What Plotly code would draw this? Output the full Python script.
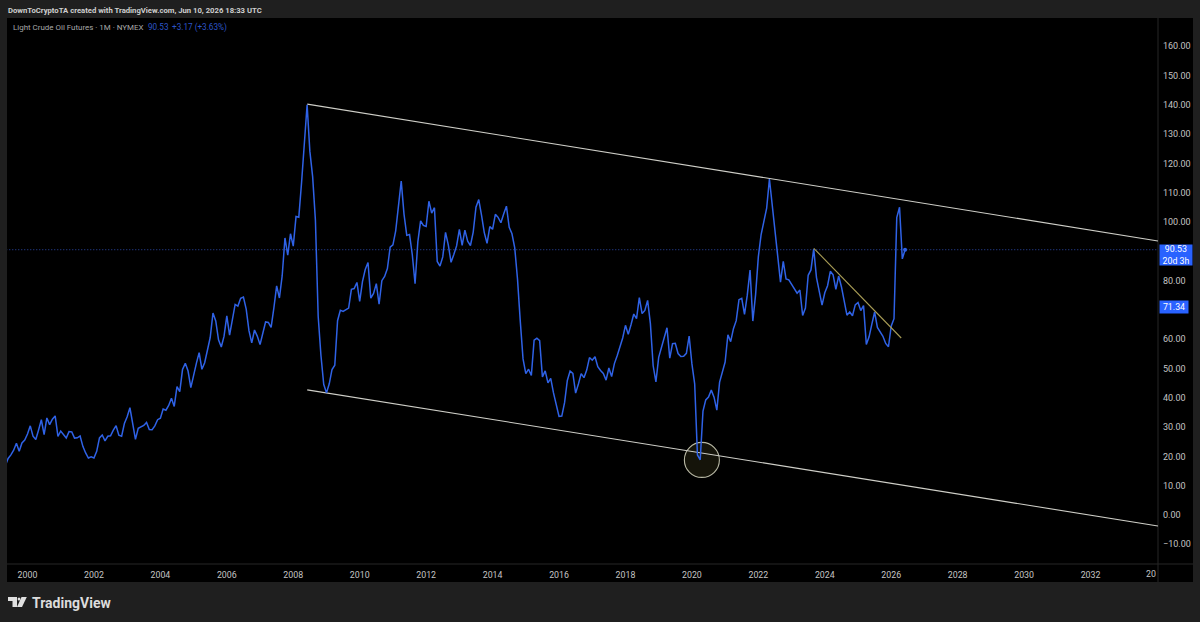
import plotly.graph_objects as go

first_year = 1999
first_month = 4  # May (0-based)
p1999 = [16.84, 19.29, 20.53, 22.11, 24.51, 21.75, 24.59, 25.60]
p2000 = [27.64, 30.43, 26.90, 25.74, 29.01, 32.50, 27.43, 33.12, 30.84, 32.70, 33.82, 26.80]
p2001 = [28.66, 27.39, 26.29, 28.46, 28.37, 26.25, 26.35, 26.97, 23.43, 21.18, 19.44, 19.84]
p2002 = [19.48, 21.74, 26.31, 27.29, 25.31, 26.86, 27.02, 28.98, 30.45, 27.22, 26.89, 31.20]
p2003 = [33.51, 36.60, 31.04, 25.80, 29.56, 30.19, 30.54, 31.57, 29.20, 29.11, 30.41, 32.52]
p2004 = [33.05, 36.16, 35.76, 37.38, 39.88, 37.05, 43.80, 42.12, 49.64, 51.76, 49.13, 43.45]
p2005 = [48.20, 51.75, 55.40, 49.72, 51.97, 56.50, 60.57, 68.94, 66.24, 59.76, 57.32, 61.04]
p2006 = [67.92, 61.41, 66.63, 71.88, 71.29, 73.93, 74.40, 70.26, 62.91, 58.73, 63.13, 61.05]
p2007 = [58.14, 61.79, 65.87, 65.71, 64.01, 70.68, 78.21, 74.04, 81.66, 94.53, 88.71, 95.98]
p2008 = [91.75, 101.84, 101.58, 113.46, 127.35, 140.00, 124.08, 115.46, 100.64, 67.81, 54.43, 44.60]
p2009 = [41.68, 44.76, 49.66, 51.12, 66.31, 69.89, 69.45, 69.96, 70.61, 77.00, 77.28, 79.36]
p2010 = [72.89, 79.66, 83.76, 86.15, 73.97, 75.63, 78.95, 71.92, 79.97, 81.43, 84.11, 91.38]
p2011 = [92.19, 96.97, 106.72, 113.93, 102.70, 95.42, 95.70, 88.81, 78.93, 93.19, 100.36, 98.83]
p2012 = [98.48, 107.07, 103.02, 104.87, 86.53, 84.96, 88.06, 96.47, 92.19, 86.24, 88.91, 91.82]
p2013 = [97.49, 92.05, 97.23, 93.46, 91.97, 96.56, 105.03, 107.65, 102.33, 96.38, 92.72, 98.42]
p2014 = [97.49, 102.59, 101.58, 99.74, 102.71, 105.37, 98.17, 95.96, 91.16, 80.54, 66.15, 53.27]
p2015 = [48.24, 49.76, 47.60, 59.63, 60.30, 59.47, 47.12, 49.20, 45.09, 46.59, 41.65, 37.04]
p2016 = [33.62, 33.75, 38.34, 45.92, 49.10, 48.33, 41.60, 44.70, 48.24, 46.86, 49.44, 53.72]
p2017 = [52.81, 54.01, 50.60, 49.33, 48.32, 46.04, 50.17, 47.23, 51.67, 54.38, 57.40, 60.42]
p2018 = [64.73, 61.64, 64.94, 68.57, 67.04, 74.15, 68.76, 69.80, 73.25, 65.31, 50.93, 45.41]
p2019 = [53.79, 57.22, 60.14, 63.91, 53.50, 58.47, 58.58, 55.10, 54.07, 54.18, 55.17, 61.06]
p2020 = [51.56, 44.76, 20.48, 18.84, 35.49, 39.27, 40.27, 42.61, 40.22, 35.79, 45.34, 48.52]
p2021 = [52.20, 61.50, 59.16, 63.58, 66.32, 73.47, 73.95, 68.50, 75.03, 83.57, 66.18, 75.21]
p2022 = [88.15, 95.72, 100.28, 104.69, 114.67, 105.76, 98.62, 89.55, 79.49, 86.53, 80.55, 80.26]
p2023 = [78.87, 77.05, 75.67, 76.78, 68.09, 70.64, 81.80, 83.63, 90.79, 81.02, 75.96, 71.65]
p2024 = [75.85, 78.26, 83.17, 81.93, 76.99, 81.54, 77.91, 73.55, 68.17, 69.26, 68.00, 71.72]
p2025 = [72.53, 69.76, 71.48, 58.21, 60.79, 65.11, 69.26, 64.01, 62.37, 60.98, 58.55, 57.42]
p2026 = [64.5, 67.0, 101.5, 105.0, 87.4, 90.53]

yearly = [p1999, p2000, p2001, p2002, p2003, p2004, p2005, p2006, p2007, p2008, p2009, p2010, p2011,
          p2012, p2013, p2014, p2015, p2016, p2017, p2018, p2019, p2020, p2021, p2022, p2023, p2024,
          p2025, p2026]

upper_x, upper_y = [2008.42, 2034.03], [140.2, 93.5]
lower_x, lower_y = [2008.42, 2034.03], [42.7, -3.75]
down_x, down_y = [2023.67, 2026.30], [91.0, 60.4]
last_price = 90.53
prior_close_label = "71.34"
year_ticks = list(range(2000, 2034, 2))
price_ticks = [p for p in range(-10, 170, 10) if p != 90]

dates, closes = [], []
for i, row in enumerate(yearly):
    start = first_month if i == 0 else 0
    for k, v in enumerate(row):
        dates.append(first_year + i + (start + k) / 12)
        closes.append(v)

W, H = 1200, 622
L, R, T, B = 7, 1158, 18, 564
def px(x): return (x - L) / (R - L)
def py(y): return (B - y) / (B - T)

BLUE = "#2962ff"
FONT = "Roboto"
fig = go.Figure()
fig.add_trace(go.Scatter(x=[1999, 2035], y=[last_price, last_price], mode="lines",
                         line=dict(color="#2b48a8", width=1, dash="1px,2px"), hoverinfo="skip"))
fig.add_trace(go.Scatter(x=upper_x, y=upper_y, mode="lines", line=dict(color="#cfcfc8", width=1.1)))
fig.add_trace(go.Scatter(x=lower_x, y=lower_y, mode="lines", line=dict(color="#cfcfc8", width=1.1)))
fig.add_trace(go.Scatter(x=dates, y=closes, mode="lines", line=dict(color="#2f62e6", width=1.5)))
fig.add_trace(go.Scatter(x=dates[-1:], y=closes[-1:], mode="markers", marker=dict(color="#2f62e6", size=4)))
fig.add_trace(go.Scatter(x=down_x, y=down_y, mode="lines", line=dict(color="#a89c55", width=1.1)))

def txt(x, y, s, color="#c4c4c4", size=9, anchor="left", **kw):
    return dict(xref="paper", yref="paper", x=px(x), y=py(y), text=s, showarrow=False, xanchor=anchor,
                yanchor="middle", font=dict(family=FONT, size=size, color=color), **kw)

annotations = [
    txt(6, 10, "<b>DownToCryptoTA created with TradingView.com, Jun 10, 2026 18:33 UTC</b>", "#cfcfcf", 7.7),
    txt(11, 27, "Light Crude Oil Futures · 1M · NYMEX", "#a8a8a8", 7.95),
    txt(146, 27, "90.53", "#2d55c8", 8.2),
    txt(170, 27, "+3.17 (+3.63%)", "#2d55c8", 8.2),
    txt(1158, 573.5, "20", "#c4c4c4", 8.8, anchor="right"),
    txt(1159, 254.5, "90.53<br>20d 3h", "#ffffff", 8.8, bgcolor=BLUE, width=32, height=20, align="center", borderpad=0),
    txt(1159, 307, prior_close_label, "#ffffff", 8.8, bgcolor=BLUE, width=28, height=12, align="center", borderpad=0),
    txt(30, 603, "<b>TradingView</b>", "#dcdcdc", 14),
]

shapes = [
    dict(type="rect", xref="paper", yref="paper", x0=px(7), x1=px(1193), y0=py(582), y1=py(18),
         fillcolor="#000000", line_width=0, layer="below"),
    dict(type="line", xref="paper", yref="paper", x0=px(1158), x1=px(1158), y0=py(582), y1=py(18),
         line=dict(color="#262626", width=1), layer="below"),
    dict(type="line", xref="paper", yref="paper", x0=px(7), x1=px(1193), y0=py(564), y1=py(564),
         line=dict(color="#262626", width=1), layer="below"),
    dict(type="circle", xref="x", yref="y", x0=2020.30 - 0.527, x1=2020.30 + 0.527, y0=18.8 - 5.97, y1=18.8 + 5.97,
         fillcolor="#15140a", line=dict(color="#b8b8a4", width=1.1), layer="below"),
    dict(type="path", xref="paper", yref="paper", fillcolor="#e0e0e0", line_width=0,
         path="M {} {} L {} {} L {} {} L {} {} L {} {} L {} {} Z".format(
             px(8), py(597), px(17), py(597), px(17), py(607), px(12.5), py(607), px(12.5), py(601), px(8), py(601))),
    dict(type="circle", xref="paper", yref="paper", fillcolor="#e0e0e0", line_width=0,
         x0=px(17.6), x1=px(20.4), y0=py(600.4), y1=py(597.4)),
    dict(type="path", xref="paper", yref="paper", fillcolor="#e0e0e0", line_width=0,
         path="M {} {} L {} {} L {} {} L {} {} Z".format(
             px(21.5), py(597), px(26.8), py(597), px(22), py(607), px(17), py(607))),
]

fig.update_layout(
    width=W, height=H, margin=dict(l=L, r=W - R, t=T, b=H - B, pad=0),
    paper_bgcolor="#1f1f1f", plot_bgcolor="#000000", showlegend=False,
    annotations=annotations, shapes=shapes,
    font=dict(family=FONT, size=9, color="#c4c4c4"),
    xaxis=dict(range=[1999.383, 2034.03], tickmode="array", tickvals=year_ticks,
               ticktext=[str(y) for y in year_ticks], showgrid=False, zeroline=False, showline=False,
               ticks="", ticklabelstandoff=4, tickfont=dict(family=FONT, size=8.8, color="#c4c4c4")),
    yaxis=dict(range=[-16.72, 169.6], side="right", tickmode="array", tickvals=price_ticks,
               tickformat=".2f", showgrid=False, zeroline=False, showline=False,
               ticks="", ticklabelstandoff=4, tickfont=dict(family=FONT, size=9, color="#c4c4c4")),
)

fig.write_html("out.html", config=dict(displayModeBar=False),
               post_script="document.body.style.margin='0';document.body.style.overflow='hidden';")
